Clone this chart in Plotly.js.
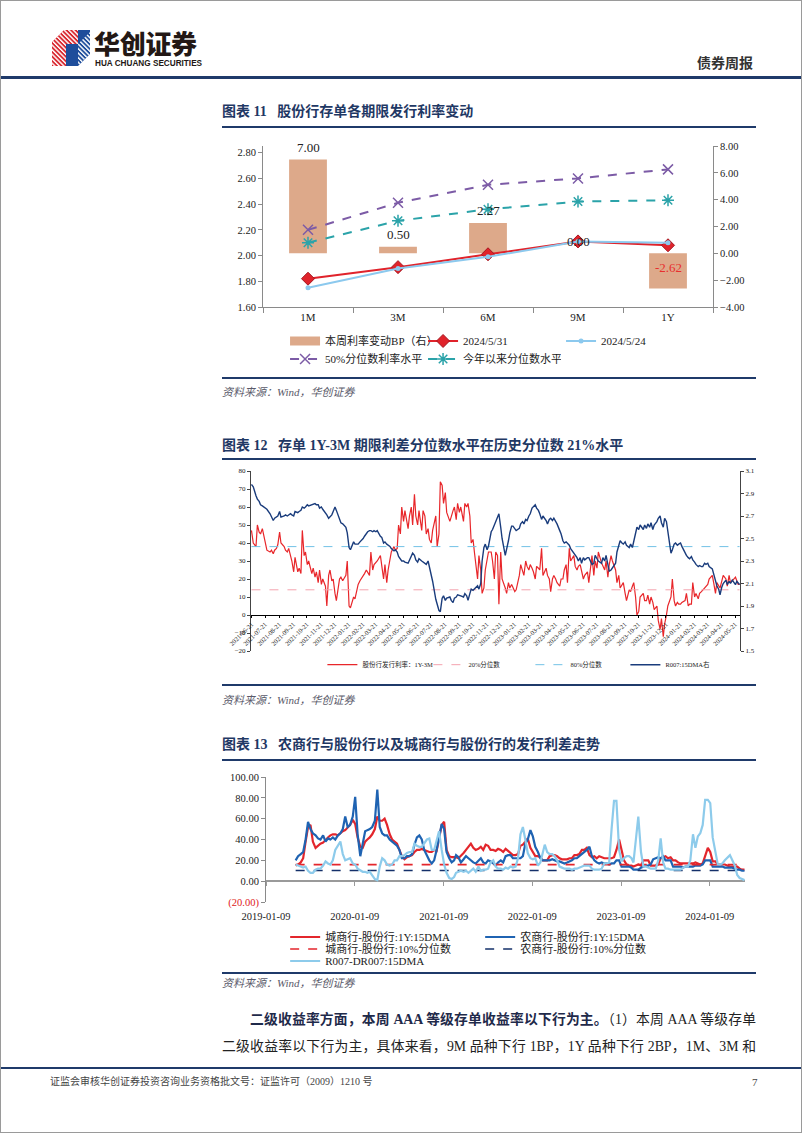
<!DOCTYPE html>
<html><head><meta charset="utf-8">
<script src="https://cdn.plot.ly/plotly-3.0.1.min.js"></script>
<style>
html,body{margin:0;padding:0;background:#fff;}
#page{position:relative;width:802px;height:1133px;overflow:hidden;font-family:"Liberation Serif","Noto Sans CJK SC",serif;color:#222;}
.frame{position:absolute;left:0;top:0;width:802px;height:1133px;box-sizing:border-box;border:1px solid #9a9a9a;pointer-events:none;}
.a{position:absolute;white-space:nowrap;}
.rule{position:absolute;background:#1F3A6A;}
.ttl{position:absolute;left:222px;font-family:"Liberation Serif","Noto Sans CJK SC",serif;font-weight:bold;font-size:14px;color:#1F3864;line-height:18px;white-space:nowrap;}
.src{position:absolute;left:222px;font-style:italic;font-size:11px;color:#5a5a6a;line-height:16px;white-space:nowrap;font-family:"Liberation Serif","Noto Sans CJK SC",serif;}
.chart{position:absolute;left:222px;width:540px;}
.jl{position:absolute;font-size:13.8px;line-height:20px;text-align:justify;text-align-last:justify;white-space:normal;font-family:"Liberation Serif","Noto Sans CJK SC",serif;color:#222;}
</style></head>
<body>
<div id="page">
  <!-- header -->
  <svg class="a" style="left:52px;top:28px" width="40" height="40" viewBox="0 0 40 40">
    <defs>
      <pattern id="st" width="3.2" height="3.2" patternUnits="userSpaceOnUse" patternTransform="rotate(-45)">
        <rect x="0" y="0" width="1.4" height="3.2" fill="#fff"/>
      </pattern>
    </defs>
    <polygon points="0,14 12,2 26,2 26,16 14,16 14,38 0,38" fill="#D8262E"/>
    <polygon points="0,14 12,2 26,2 26,16 14,16 14,38 0,38" fill="url(#st)"/>
    <polygon points="14,16 26,16 26,2 38,2 38,26 26,38 14,38" fill="#1E4D9B"/>
    <polygon points="26,16 38,4 38,26 26,38" fill="url(#st)"/>
  </svg>
  <div class="a" style="left:94px;top:30px;font-family:'Noto Sans CJK SC';font-weight:900;font-size:26px;line-height:26px;height:26px;color:#231815;letter-spacing:-0.3px;">华创证券</div>
  <div class="a" style="left:95px;top:60px;font-family:'Liberation Sans';font-weight:bold;font-size:8.2px;line-height:8px;height:8px;color:#231815;">HUA CHUANG SECURITIES</div>
  <div class="a" style="left:697px;top:53px;font-family:'Noto Sans CJK SC';font-weight:bold;font-size:14px;line-height:18px;color:#333;">债券周报</div>
  <div class="rule" style="left:0;top:76px;width:802px;height:2.5px;"></div>

  <!-- chart 11 -->
  <div class="ttl" style="top:103px;">图表 11&nbsp;&nbsp; 股份行存单各期限发行利率变动</div>
  <div class="rule" style="left:222px;top:126px;width:534px;height:2px;"></div>
  <div id="c1" class="chart" style="top:130px;height:248px;"></div>
  <div class="rule" style="left:222px;top:377px;width:534px;height:1.5px;"></div>
  <div class="src" style="top:384px;">资料来源：Wind，华创证券</div>

  <!-- chart 12 -->
  <div class="ttl" style="top:437px;">图表 12&nbsp;&nbsp; 存单 1Y-3M 期限利差分位数水平在历史分位数 21%水平</div>
  <div class="rule" style="left:222px;top:458px;width:534px;height:2px;"></div>
  <div id="c2" class="chart" style="top:462px;height:222px;"></div>
  <div class="rule" style="left:222px;top:684px;width:534px;height:1.5px;"></div>
  <div class="src" style="top:692px;">资料来源：Wind，华创证券</div>

  <!-- chart 13 -->
  <div class="ttl" style="top:736px;">图表 13&nbsp;&nbsp; 农商行与股份行以及城商行与股份行的发行利差走势</div>
  <div class="rule" style="left:222px;top:759px;width:534px;height:2px;"></div>
  <div id="c3" class="chart" style="top:762px;height:210px;"></div>
  <div class="rule" style="left:222px;top:972px;width:534px;height:1.5px;"></div>
  <div class="src" style="top:975px;">资料来源：Wind，华创证券</div>

  <!-- body text -->
  <div class="jl" style="left:250px;top:1010px;width:506px;"><b style="color:#1F2A4A">二级收益率方面，本周 AAA 等级存单收益率以下行为主。</b>（1）本周 AAA 等级存单</div>
  <div class="jl" style="left:222px;top:1037px;width:534px;">二级收益率以下行为主，具体来看，9M 品种下行 1BP，1Y 品种下行 2BP，1M、3M 和</div>

  <div class="rule" style="left:0;top:1067px;width:802px;height:2px;"></div>
  <div class="a" style="left:50px;top:1075px;font-size:10px;line-height:14px;color:#444;font-family:'Liberation Serif','Noto Sans CJK SC',serif;">证监会审核华创证券投资咨询业务资格批文号：证监许可（2009）1210 号</div>
  <div class="a" style="left:752px;top:1075px;font-size:11px;line-height:14px;color:#444;">7</div>
  <div class="frame"></div>
</div>

<script>
// ---------------- Chart 11 data ----------------
const cats1 = ['1M','3M','6M','9M','1Y'];
const chgBP = [7.00, 0.50, 2.27, 0.00, -2.62];
const rate0531 = [1.82, 1.91, 2.01, 2.11, 2.08];
const rate0524 = [1.75, 1.90, 1.99, 2.11, 2.10];
const pct50 = [2.20, 2.41, 2.55, 2.60, 2.67];
const pctYTD = [2.10, 2.27, 2.36, 2.42, 2.43];
const names1 = ['本周利率变动BP（右）','2024/5/31','2024/5/24','50%分位数利率水平','今年以来分位数水平'];

// ---------------- Chart 12 data ----------------
const dates2 = ['2021-06-21','2021-06-25',
'2021-07-01','2021-07-04','2021-07-08','2021-07-11','2021-07-15','2021-07-18','2021-07-22','2021-07-25',
'2021-08-01','2021-08-04','2021-08-08','2021-08-11','2021-08-15','2021-08-18','2021-08-22','2021-08-25',
'2021-09-01','2021-09-04','2021-09-08','2021-09-11','2021-09-15','2021-09-18','2021-09-22','2021-09-25',
'2021-10-01','2021-10-04','2021-10-08','2021-10-11','2021-10-15','2021-10-18','2021-10-22','2021-10-25',
'2021-11-01','2021-11-04','2021-11-08','2021-11-11','2021-11-15','2021-11-18','2021-11-22','2021-11-25',
'2021-12-01','2021-12-04','2021-12-08','2021-12-11','2021-12-15','2021-12-18','2021-12-22','2021-12-25',
'2022-01-01','2022-01-04','2022-01-08','2022-01-11','2022-01-15','2022-01-18','2022-01-22','2022-01-25',
'2022-02-01','2022-02-04','2022-02-08','2022-02-11','2022-02-15','2022-02-18','2022-02-22','2022-02-25',
'2022-03-01','2022-03-04','2022-03-08','2022-03-11','2022-03-15','2022-03-18','2022-03-22','2022-03-25',
'2022-04-01','2022-04-04','2022-04-08','2022-04-11','2022-04-15','2022-04-18','2022-04-22','2022-04-25',
'2022-05-01','2022-05-04','2022-05-08','2022-05-11','2022-05-15','2022-05-18','2022-05-22','2022-05-25',
'2022-06-01','2022-06-04','2022-06-08','2022-06-11','2022-06-15','2022-06-18','2022-06-22','2022-06-25',
'2022-07-01','2022-07-04','2022-07-08','2022-07-11','2022-07-15','2022-07-18','2022-07-22','2022-07-25',
'2022-08-01','2022-08-04','2022-08-08','2022-08-11','2022-08-15','2022-08-18','2022-08-22','2022-08-25',
'2022-09-01','2022-09-04','2022-09-08','2022-09-11','2022-09-15','2022-09-18','2022-09-22','2022-09-25',
'2022-10-01','2022-10-04','2022-10-08','2022-10-11','2022-10-15','2022-10-18','2022-10-22','2022-10-25',
'2022-11-01','2022-11-04','2022-11-08','2022-11-11','2022-11-15','2022-11-18','2022-11-22','2022-11-25',
'2022-12-01','2022-12-04','2022-12-08','2022-12-11','2022-12-15','2022-12-18','2022-12-22','2022-12-25',
'2023-01-01','2023-01-04','2023-01-08','2023-01-11','2023-01-15','2023-01-18','2023-01-22','2023-01-25',
'2023-02-01','2023-02-04','2023-02-08','2023-02-11','2023-02-15','2023-02-18','2023-02-22','2023-02-25',
'2023-03-01','2023-03-04','2023-03-08','2023-03-11','2023-03-15','2023-03-18','2023-03-22','2023-03-25',
'2023-04-01','2023-04-04','2023-04-08','2023-04-11','2023-04-15','2023-04-18','2023-04-22','2023-04-25',
'2023-05-01','2023-05-04','2023-05-08','2023-05-11','2023-05-15','2023-05-18','2023-05-22','2023-05-25',
'2023-06-01','2023-06-04','2023-06-08','2023-06-11','2023-06-15','2023-06-18','2023-06-22','2023-06-25',
'2023-07-01','2023-07-04','2023-07-08','2023-07-11','2023-07-15','2023-07-18','2023-07-22','2023-07-25',
'2023-08-01','2023-08-04','2023-08-08','2023-08-11','2023-08-15','2023-08-18','2023-08-22','2023-08-25',
'2023-09-01','2023-09-04','2023-09-08','2023-09-11','2023-09-15','2023-09-18','2023-09-22','2023-09-25',
'2023-10-01','2023-10-04','2023-10-08','2023-10-11','2023-10-15','2023-10-18','2023-10-22','2023-10-25',
'2023-11-01','2023-11-04','2023-11-08','2023-11-11','2023-11-15','2023-11-18','2023-11-22','2023-11-25',
'2023-12-01','2023-12-04','2023-12-08','2023-12-11','2023-12-15','2023-12-18','2023-12-22','2023-12-25',
'2024-01-01','2024-01-04','2024-01-08','2024-01-11','2024-01-15','2024-01-18','2024-01-22','2024-01-25',
'2024-02-01','2024-02-04','2024-02-08','2024-02-11','2024-02-15','2024-02-18','2024-02-22','2024-02-25',
'2024-03-01','2024-03-04','2024-03-08','2024-03-11','2024-03-15','2024-03-18','2024-03-22','2024-03-25',
'2024-04-01','2024-04-04','2024-04-08','2024-04-11','2024-04-15','2024-04-18','2024-04-22','2024-04-25',
'2024-05-01','2024-05-04','2024-05-08','2024-05-11','2024-05-15','2024-05-18','2024-05-22','2024-05-25','2024-05-28','2024-05-31'];
const spread1Y3M = [47,40,
38,50,46,45,48,44,40,36,
35,36,34,36,37,39,46,40,
38,36,35,37,33,30,24,32,
24,26,23,47,33,35,28,30,
23,26,21,24,18,25,17,20,
16,5,22,25,19,20,12,8,
20,21,19,20,22,30,5,4,
10,9,15,17,19,20,22,23,
25,24,22,35,25,28,29,30,
33,26,20,28,18,25,30,35,
38,36,37,50,45,60,52,58,
48,55,60,50,67,55,50,58,
47,58,55,45,48,42,40,47,
55,38,45,74,72,62,68,57,
52,55,58,60,53,62,57,60,
52,62,60,62,55,40,42,35,
20,33,25,12,15,25,30,35,
35,30,20,35,33,6,35,20,
15,12,18,15,17,15,13,14,
22,28,25,22,30,27,25,28,
26,24,20,27,26,25,37,22,
26,22,20,13,20,22,20,18,
16,20,20,25,28,18,37,30,
33,27,25,27,28,25,20,22,
24,18,26,33,22,30,26,35,
29,27,25,30,21,28,33,30,
25,18,22,15,17,18,12,8,
14,13,16,18,10,0,2,10,
12,8,8,11,6,10,7,3,
5,-3,-8,-2,-12,-5,0,5,
10,20,8,5,7,6,6,7,
8,12,5,6,6,18,10,12,
9,12,13,14,15,16,17,20,
22,18,12,18,16,15,19,22,
20,16,22,18,19,20,21,19,17,17];
const r007dma = [2.98,2.96,
2.88,2.85,2.83,2.80,2.79,2.78,2.77,2.76,
2.72,2.69,2.66,2.68,2.69,2.70,2.74,2.69,
2.70,2.71,2.70,2.71,2.72,2.71,2.70,2.74,
2.73,2.74,2.75,2.78,2.77,2.78,2.80,2.79,
2.80,2.80,2.81,2.80,2.80,2.77,2.78,2.76,
2.73,2.71,2.68,2.69,2.71,2.74,2.78,2.75,
2.66,2.64,2.63,2.62,2.60,2.55,2.42,2.40,
2.47,2.45,2.45,2.45,2.47,2.48,2.50,2.52,
2.55,2.56,2.57,2.57,2.56,2.57,2.56,2.57,
2.52,2.51,2.46,2.47,2.45,2.44,2.43,2.41,
2.39,2.40,2.38,2.34,2.31,2.30,2.30,2.29,
2.28,2.31,2.34,2.37,2.35,2.31,2.29,2.32,
2.30,2.29,2.28,2.27,2.30,2.25,2.18,2.12,
1.96,1.91,1.86,1.85,1.97,1.99,1.95,1.97,
1.98,1.95,1.93,1.97,1.98,2.00,1.99,1.99,
1.98,2.01,1.99,1.95,2.01,2.05,2.04,2.05,
2.08,2.05,2.10,2.30,2.42,2.45,2.40,2.43,
2.56,2.58,2.62,2.65,2.70,2.72,2.60,2.50,
2.35,2.40,2.48,2.55,2.61,2.61,2.59,2.57,
2.59,2.63,2.65,2.63,2.67,2.66,2.70,2.72,
2.77,2.78,2.80,2.77,2.75,2.72,2.67,2.70,
2.66,2.63,2.67,2.68,2.66,2.68,2.65,2.63,
2.57,2.54,2.48,2.46,2.47,2.46,2.44,2.41,
2.37,2.36,2.33,2.30,2.33,2.28,2.33,2.31,
2.33,2.33,2.30,2.27,2.28,2.35,2.32,2.30,
2.28,2.33,2.30,2.35,2.27,2.21,2.22,2.24,
2.28,2.38,2.45,2.48,2.46,2.45,2.47,2.44,
2.42,2.45,2.42,2.48,2.56,2.60,2.58,2.62,
2.58,2.62,2.59,2.63,2.60,2.64,2.58,2.62,
2.65,2.68,2.70,2.64,2.60,2.68,2.65,2.55,
2.37,2.40,2.45,2.46,2.44,2.45,2.46,2.43,
2.37,2.35,2.33,2.32,2.34,2.31,2.29,2.27,
2.25,2.26,2.25,2.25,2.28,2.27,2.28,2.25,
2.23,2.18,2.12,2.08,2.05,2.00,2.07,2.10,
2.13,2.09,2.12,2.10,2.13,2.11,2.09,2.12,2.10,2.09];
const pct20 = 14;
const pct80 = 38;
const names2 = ['股份行发行利率：1Y-3M','20%分位数','80%分位数','R007:15DMA右'];

// ---------------- Chart 13 data ----------------
const dates3 = ['2019-05-11','2019-05-21',
'2019-06-01','2019-06-11','2019-06-21','2019-07-01','2019-07-11','2019-07-21','2019-08-01','2019-08-11','2019-08-21',
'2019-09-01','2019-09-11','2019-09-21','2019-10-01','2019-10-11','2019-10-21','2019-11-01','2019-11-11','2019-11-21',
'2019-12-01','2019-12-11','2019-12-21',
'2020-01-01','2020-01-11','2020-01-21','2020-02-01','2020-02-11','2020-02-21','2020-03-01','2020-03-11','2020-03-21',
'2020-04-01','2020-04-11','2020-04-21','2020-05-01','2020-05-11','2020-05-21','2020-06-01','2020-06-11','2020-06-21',
'2020-07-01','2020-07-11','2020-07-21','2020-08-01','2020-08-11','2020-08-21','2020-09-01','2020-09-11','2020-09-21',
'2020-10-01','2020-10-11','2020-10-21','2020-11-01','2020-11-11','2020-11-21','2020-12-01','2020-12-11','2020-12-21',
'2021-01-01','2021-01-11','2021-01-21','2021-02-01','2021-02-11','2021-02-21','2021-03-01','2021-03-11','2021-03-21',
'2021-04-01','2021-04-11','2021-04-21','2021-05-01','2021-05-11','2021-05-21','2021-06-01','2021-06-11','2021-06-21',
'2021-07-01','2021-07-11','2021-07-21','2021-08-01','2021-08-11','2021-08-21','2021-09-01','2021-09-11','2021-09-21',
'2021-10-01','2021-10-11','2021-10-21','2021-11-01','2021-11-11','2021-11-21','2021-12-01','2021-12-11','2021-12-21',
'2022-01-01','2022-01-11','2022-01-21','2022-02-01','2022-02-11','2022-02-21','2022-03-01','2022-03-11','2022-03-21',
'2022-04-01','2022-04-11','2022-04-21','2022-05-01','2022-05-11','2022-05-21','2022-06-01','2022-06-11','2022-06-21',
'2022-07-01','2022-07-11','2022-07-21','2022-08-01','2022-08-11','2022-08-21','2022-09-01','2022-09-11','2022-09-21',
'2022-10-01','2022-10-11','2022-10-21','2022-11-01','2022-11-11','2022-11-21','2022-12-01','2022-12-11','2022-12-21',
'2023-01-01','2023-01-11','2023-01-21','2023-02-01','2023-02-11','2023-02-21','2023-03-01','2023-03-11','2023-03-21',
'2023-04-01','2023-04-11','2023-04-21','2023-05-01','2023-05-11','2023-05-21','2023-06-01','2023-06-11','2023-06-21',
'2023-07-01','2023-07-11','2023-07-21','2023-08-01','2023-08-11','2023-08-21','2023-09-01','2023-09-11','2023-09-21',
'2023-10-01','2023-10-11','2023-10-21','2023-11-01','2023-11-11','2023-11-21','2023-12-01','2023-12-11','2023-12-21',
'2024-01-01','2024-01-11','2024-01-21','2024-02-01','2024-02-11','2024-02-21','2024-03-01','2024-03-11','2024-03-21',
'2024-04-01','2024-04-11','2024-04-21','2024-05-01','2024-05-11','2024-05-21','2024-05-31'];
const csSpread = [15,16,
18,22,38, 52,54,38, 32,34,36, 37,40,42, 44,45,45, 44,46,48, 49,52,54,
59,55,42, 33,32,38, 40,42,45, 50,62,58, 58,60,54, 45,40,38, 36,30,24, 21,23,24, 25,28,30, 30,31,30, 29,28,28, 30,29,40,
54,57,30, 24,23,23, 23,22,24, 27,30,33, 36,32,30, 31,33,30, 35,34,30, 30,29,31, 30,28,31, 29,27,25, 25,26,34, 35,38,41,
32,28,24, 24,23,20, 20,20,24, 25,25,24, 22,21,21, 21,22,22, 25,25,26, 30,30,32, 25,23,24, 22,24,23, 22,22,22, 22,23,30,
40,30,20, 16,15,15, 14,15,16, 15,20,20, 20,15,15, 15,16,22, 23,24,22, 23,20,20, 18,17,17, 17,17,17, 17,18,17, 16,17,24,
32,28,19, 19,16,16, 16,16,15, 14,14,14, 14,12,11, 11];
const nsSpread = [20,24,
26,28,40, 57,50,46, 44,41,40, 44,38,41, 40,42,40, 44,46,50, 62,52,54,
62,81,45, 24,35,48, 49,50,52, 58,88,52, 46,44,44, 40,38,36, 34,30,22, 22,24,24, 26,35,42, 44,40,30, 24,20,17, 20,30,42,
55,50,28, 22,18,20, 25,23,18, 21,24,22, 20,18,17, 20,22,18, 17,20,19, 17,15,18, 20,18,24, 25,25,22, 22,22,22, 24,36,40,
49,43,33, 28,22,20, 20,20,20, 21,20,19, 19,18,17, 18,19,20, 22,22,24, 26,28,30, 33,24,20, 18,17,18, 17,17,16, 17,17,20,
20,14,14, 14,14,13, 11,11,11, 13,14,15, 15,16,21, 22,23,22, 24,20,20, 20,14,14, 14,14,13, 14,14,14, 14,15,15, 15,16,20,
20,20,14, 14,14,14, 14,13,13, 13,13,12, 11,11,10, 10];
const r007dr = [16,15,
14,13,14, 10,8,8, 11,12,12, 15,19,17, 16,20,30, 34,38,26, 20,21,22,
17,16,12, 10,9,9, 8,9,5, 2,1,14, 22,20,16, 15,16,20, 20,24,24, 25,27,28, 28,36,34, 33,33,36, 40,41,30, 30,40,48,
30,16,8, 3,2,4, 8,9,10, 9,10,8, 10,12,9, 14,10,11, 11,12,18, 20,14,12, 12,11,13, 12,14,13, 14,22,45, 52,40,27,
22,21,22, 15,18,28, 35,28,26, 26,24,20, 14,13,12, 12,12,11, 12,12,13, 14,15,15, 15,12,11, 11,11,12, 17,17,18, 50,77,77,
30,19,22, 24,24,22, 18,40,62, 28,14,14, 13,12,12, 12,20,41, 18,12,12, 11,11,11, 11,11,13, 14,14,20, 45,32,43, 46,54,78,
78,75,42, 27,16,16, 17,20,22, 25,20,15, 6,3,2, 1];
const csP10 = 15.9;
const nsP10 = 10.2;
const yearTicks3 = ['2019-01-09','2020-01-09','2021-01-09','2022-01-09','2023-01-09','2024-01-09'];
const yVals3 = [-20,0,20,40,60,80,100];
const names3 = ['城商行-股份行:1Y:15DMA','农商行-股份行:1Y:15DMA','城商行-股份行:10%分位数','农商行-股份行:10%分位数','R007-DR007:15DMA'];

// ---------------- common ----------------
const FF = 'Liberation Serif, Noto Sans CJK SC, serif';
const cfg = {displayModeBar:false, staticPlot:true};
const clear = 'rgba(0,0,0,0)';

// ---------- Chart 11 ----------
(function(){
  const tan = '#DDA98A', red = '#E0232B', lb = '#8CC9EE', pur = '#7C5BA6', teal = '#2BA3A9';
  const traces = [
    {type:'bar', x:cats1, y:chgBP, xaxis:'x', yaxis:'y', marker:{color:tan}, width:0.42, showlegend:false},
    {type:'scatter', mode:'lines', x:[null], y:[null], xaxis:'x', yaxis:'y', line:{color:tan, width:9}, name:names1[0], legend:'legend', legendwidth:93},
    {type:'scatter', mode:'lines+markers', x:cats1, y:rate0531, yaxis:'y2', name:names1[1], legend:'legend', legendwidth:93,
      line:{color:red, width:2}, marker:{symbol:'diamond', size:10, color:red, line:{color:'#A51620', width:1}}},
    {type:'scatter', mode:'lines+markers', x:cats1, y:rate0524, yaxis:'y2', name:names1[2], legend:'legend', legendwidth:93,
      line:{color:lb, width:2}, marker:{symbol:'circle', size:5, color:lb}},
    {type:'scatter', mode:'lines+markers', x:cats1, y:pct50, yaxis:'y2', name:names1[3], legend:'legend2', legendwidth:93,
      line:{color:pur, width:2, dash:'dash'}, marker:{symbol:'x-thin-open', size:10, line:{color:pur, width:1.5}}},
    {type:'scatter', mode:'lines+markers', x:cats1, y:pctYTD, yaxis:'y2', name:names1[4], legend:'legend2', legendwidth:93,
      line:{color:teal, width:2, dash:'dash'}, marker:{symbol:'asterisk-open', size:10, line:{color:teal, width:1.5}}}
  ];
  const ann = cats1.map((c,i)=>({x:c, y:Math.max(chgBP[i],0), xref:'x', yref:'y', text:chgBP[i].toFixed(2), showarrow:false,
    yshift: chgBP[i] < 0 ? -14 : 12, font:{family:FF, size:13, color: chgBP[i] < 0 ? '#E8302E' : '#222'}}));
  const axc = '#8a8a8a';
  const layout = {
    width:540, height:248, margin:{l:41, r:49, t:16, b:71, autoexpand:false},
    paper_bgcolor:clear, plot_bgcolor:clear,
    font:{family:FF, size:11, color:'#222'},
    xaxis:{type:'category', range:[-0.5,4.5], tickson:'boundaries', ticks:'outside', ticklen:5, tickcolor:axc,
      showline:true, linecolor:axc, linewidth:1, showgrid:false, zeroline:false, tickfont:{family:FF, size:11}},
    yaxis:{side:'right', range:[-4,8], tick0:0, dtick:2, tickformat:'.2f', showline:true, linecolor:axc, ticks:'outside',
      ticklen:4, tickcolor:axc, showgrid:false, zeroline:false, tickfont:{family:FF, size:10.5}},
    yaxis2:{side:'left', overlaying:'y', range:[1.6,2.852], tick0:1.6, dtick:0.2, tickformat:'.2f', showline:true,
      linecolor:axc, ticks:'outside', ticklen:4, tickcolor:axc, showgrid:false, zeroline:false, tickfont:{family:FF, size:10.5}},
    legend:{orientation:'h', x:0.049, xanchor:'left', y:-0.211, yanchor:'middle', bgcolor:clear, font:{family:FF, size:11}, itemwidth:30},
    legend2:{orientation:'h', x:0.049, xanchor:'left', y:-0.323, yanchor:'middle', bgcolor:clear, font:{family:FF, size:11}, itemwidth:30},
    annotations:ann, bargap:0.5
  };
  Plotly.newPlot('c1', traces, layout, cfg);
})();

// ---------- Chart 12 ----------
(function(){
  const n = dates2.length;
  const ends = [dates2[0], dates2[n-1]];
  const traces = [
    {type:'scatter', mode:'lines', x:dates2, y:spread1Y3M, yaxis:'y', name:names2[0], line:{color:'#E8262A', width:1.2}, legendwidth:61},
    {type:'scatter', mode:'lines', x:ends, y:[pct20,pct20], yaxis:'y', name:names2[1], line:{color:'#F4A3AE', width:1, dash:'dash'}, legendwidth:57},
    {type:'scatter', mode:'lines', x:ends, y:[pct80,pct80], yaxis:'y', name:names2[2], line:{color:'#72C2E6', width:1, dash:'dash'}, legendwidth:50},
    {type:'scatter', mode:'lines', x:dates2, y:r007dma, yaxis:'y2', name:names2[3], line:{color:'#1A3C7C', width:1.4}, legendwidth:50}
  ];
  const layout = {
    width:540, height:222, margin:{l:29, r:22, t:9, b:33, autoexpand:false},
    paper_bgcolor:clear, plot_bgcolor:clear,
    font:{family:FF, size:7, color:'#222'},
    xaxis:{type:'date', range:['2021-06-20','2024-06-01'], anchor:'free', position:0.2, tick0:'2021-06-21', dtick:'M1',
      tickformat:'%Y-%m-%d', tickangle:-45, tickfont:{family:FF, size:6.5}, showline:true, linecolor:'#000', linewidth:1,
      ticks:'outside', ticklen:2, tickcolor:'#000', showgrid:false, zeroline:false},
    yaxis:{range:[-20,80], dtick:10, tick0:0, showline:true, linecolor:'#444', ticks:'outside', ticklen:3, tickcolor:'#444',
      tickfont:{family:FF, size:7}, showgrid:false, zeroline:false},
    yaxis2:{range:[1.5,3.1], tick0:1.5, dtick:0.2, tickformat:'.1f', overlaying:'y', side:'right', showline:true, linecolor:'#444',
      ticks:'outside', ticklen:3, tickcolor:'#444', tickfont:{family:FF, size:7}, showgrid:false, zeroline:false},
    legend:{orientation:'h', x:0.146, xanchor:'left', y:-0.076, yanchor:'middle', bgcolor:clear, font:{family:FF, size:6.5}}
  };
  Plotly.newPlot('c2', traces, layout, cfg);
})();

// ---------- Chart 13 ----------
(function(){
  const n = dates3.length;
  const ends = [dates3[0], dates3[n-1]];
  const rng = ['2019-01-09','2024-06-02'];
  const traces = [
    {type:'scatter', mode:'lines', x:dates3, y:csSpread, name:names3[0], legend:'legend', legendwidth:150, line:{color:'#E3262C', width:2.2}},
    {type:'scatter', mode:'lines', x:dates3, y:nsSpread, name:names3[1], legend:'legend', legendwidth:150, line:{color:'#1F63B2', width:2.2}},
    {type:'scatter', mode:'lines', x:ends, y:[csP10,csP10], xaxis:'x2', name:names3[2], legend:'legend2', legendwidth:150, line:{color:'#E3262C', width:1.6, dash:'dash'}},
    {type:'scatter', mode:'lines', x:ends, y:[nsP10,nsP10], xaxis:'x2', name:names3[3], legend:'legend2', legendwidth:150, line:{color:'#14306A', width:1.6, dash:'dash'}},
    {type:'scatter', mode:'lines', x:dates3, y:r007dr, xaxis:'x2', name:names3[4], legend:'legend3', legendwidth:150, line:{color:'#8DCBEB', width:2.2}}
  ];
  const ticktext = yVals3.map(v => v < 0 ? '<span style="color:#E02020">(' + Math.abs(v).toFixed(2) + ')</span>' : v.toFixed(2));
  const lg = (y)=>({orientation:'h', x:0.04, xanchor:'left', y:y, yanchor:'middle', bgcolor:clear, font:{family:FF, size:11}});
  const layout = {
    width:540, height:210, margin:{l:44, r:17, t:15, b:70, autoexpand:false},
    paper_bgcolor:clear, plot_bgcolor:clear,
    font:{family:FF, size:10.5, color:'#222'},
    xaxis:{type:'date', range:rng, tickvals:yearTicks3, tickformat:'%Y-%m-%d', ticks:'outside', ticklen:4, tickcolor:clear,
      showline:false, showgrid:false, zeroline:false, tickfont:{family:FF, size:10.5}},
    xaxis2:{type:'date', range:rng, overlaying:'x', anchor:'free', position:20/120, tickvals:yearTicks3, ticks:'outside', ticklen:4,
      tickcolor:'#999', showticklabels:false, showline:false, showgrid:false, zeroline:false},
    yaxis:{range:[-20,100], tickvals:yVals3, ticktext:ticktext, showline:true, linecolor:'#8a8a8a', ticks:'outside', ticklen:4,
      tickcolor:'#8a8a8a', showgrid:false, zeroline:true, zerolinecolor:'#9a9a9a', zerolinewidth:1.5, tickfont:{family:FF, size:10.5}},
    legend:lg(-0.28), legend2:lg(-0.376), legend3:lg(-0.472)
  };
  Plotly.newPlot('c3', traces, layout, cfg);
})();
</script>
</body></html>
